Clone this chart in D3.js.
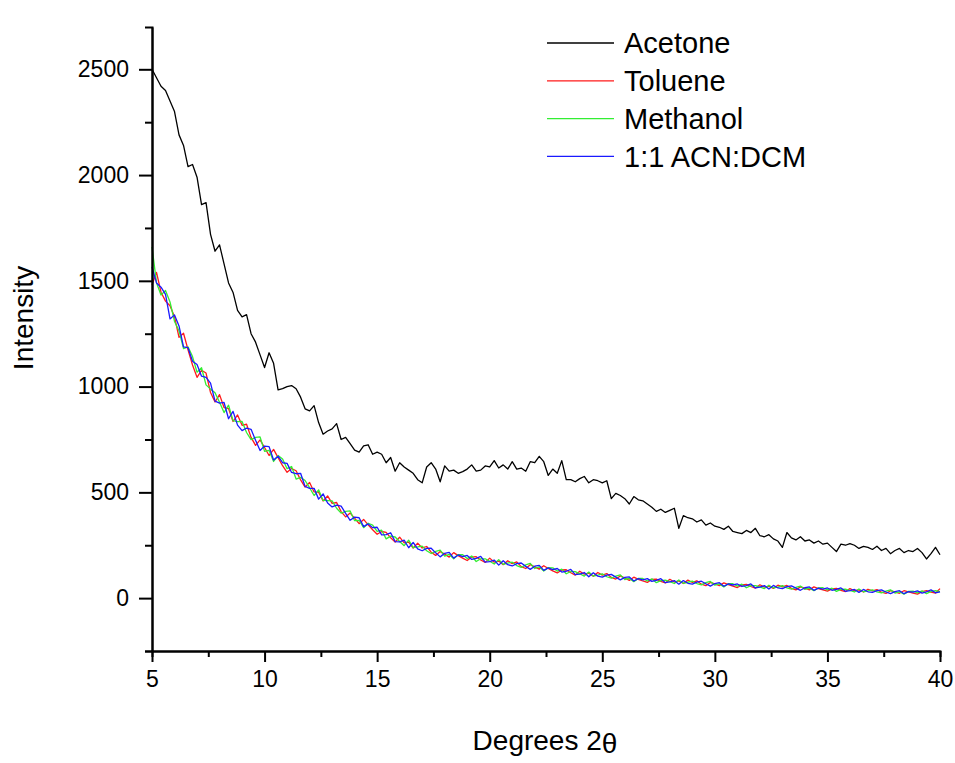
<!DOCTYPE html>
<html>
<head>
<meta charset="utf-8">
<script src="https://cdn.jsdelivr.net/npm/d3@7"></script>
<style>
  body { margin: 0; background: #fff; }
  text { font-family: "Liberation Sans", Arial, sans-serif; fill: #000; }
</style>
</head>
<body>
<div id="chart"></div>
<script>

//config
var WD = 955, HT = 763
var margin = { left: 152, right: 15, top: 27, bottom: 112 }
var width = WD - margin.left - margin.right
var height = HT - margin.top - margin.bottom

// sampling grid, degrees 2theta (5.0 -> 40.0, 0.2 step)
var twoTheta = d3.range(0, 176).map(function(i){ return +(5 + i * 0.2).toFixed(1); });

// intensities, one value per grid point
var acetone = [
  2500, 2460, 2420, 2400, 2350, 2300, 2190, 2140, 2040, 2050,
  1990, 1860, 1870, 1720, 1640, 1670, 1580, 1490, 1445, 1360,
  1330, 1340, 1250, 1210, 1150, 1090, 1160, 1110, 985, 990,
  1000, 1005, 990, 950, 895, 885, 910, 830, 775, 790,
  800, 825, 750, 760, 730, 700, 690, 720, 725, 680,
  690, 680, 640, 665, 600, 640, 620, 605, 590, 560,
  545, 620, 640, 610, 550, 625, 600, 605, 590, 598,
  610, 630, 600, 605, 625, 620, 650, 615, 630, 610,
  645, 610, 615, 600, 645, 640, 670, 645, 580, 610,
  590, 650, 560, 560, 550, 565, 575, 545, 560, 555,
  545, 555, 470, 495, 485, 470, 445, 480, 465, 460,
  445, 430, 410, 420, 405, 415, 425, 330, 390, 380,
  375, 360, 370, 345, 355, 340, 335, 325, 340, 315,
  310, 305, 320, 310, 330, 295, 290, 300, 280, 270,
  240, 310, 285, 275, 290, 270, 275, 260, 270, 255,
  260, 240, 220, 255, 250, 258, 250, 235, 245, 240,
  230, 245, 225, 235, 210, 225, 235, 215, 225, 220,
  235, 215, 185, 210, 240, 205
];

var toluene = [
  1480, 1540, 1446, 1404, 1382, 1330, 1233, 1252, 1174, 1102,
  1044, 1077, 1064, 972, 927, 962, 901, 896, 835, 866,
  817, 822, 760, 722, 748, 712, 674, 703, 664, 626,
  595, 613, 602, 559, 525, 547, 502, 501, 459, 483,
  448, 452, 409, 384, 402, 378, 352, 372, 346, 323,
  302, 315, 311, 285, 265, 288, 261, 265, 237, 260,
  237, 244, 217, 202, 220, 208, 194, 215, 201, 189,
  178, 194, 196, 180, 169, 189, 170, 175, 158, 177,
  163, 171, 149, 140, 158, 148, 137, 153, 140, 129,
  119, 133, 134, 120, 109, 127, 113, 118, 103, 121,
  109, 116, 98, 90, 105, 95, 84, 99, 89, 81,
  74, 88, 90, 79, 72, 89, 76, 81, 69, 85,
  74, 82, 66, 59, 74, 67, 59, 72, 64, 57,
  50, 62, 65, 55, 47, 63, 52, 56, 46, 61,
  53, 60, 46, 39, 53, 47, 39, 53, 45, 39,
  33, 44, 46, 37, 31, 45, 35, 39, 29, 42,
  34, 40, 28, 22, 35, 29, 23, 35, 29, 24,
  19, 31, 35, 28, 24, 45
];

var methanol = [
  1660, 1491, 1433, 1454, 1400, 1308, 1264, 1180, 1188, 1142,
  1068, 1089, 1008, 988, 971, 926, 877, 912, 839, 834,
  835, 783, 749, 760, 762, 694, 699, 646, 674, 658,
  612, 622, 563, 571, 556, 522, 485, 512, 462, 461,
  460, 425, 402, 410, 412, 366, 368, 333, 354, 345,
  315, 321, 280, 293, 289, 268, 248, 274, 239, 242,
  246, 224, 211, 221, 227, 199, 207, 186, 206, 205,
  187, 199, 173, 186, 186, 174, 161, 182, 160, 165,
  170, 154, 145, 157, 164, 140, 148, 128, 144, 143,
  128, 137, 115, 126, 125, 115, 104, 123, 104, 109,
  115, 101, 94, 104, 110, 88, 93, 78, 93, 93,
  81, 91, 73, 83, 85, 78, 69, 86, 70, 75,
  80, 69, 63, 73, 79, 61, 67, 53, 68, 68,
  57, 66, 49, 59, 59, 53, 45, 61, 48, 52,
  59, 48, 42, 51, 57, 41, 47, 35, 48, 49,
  39, 47, 32, 41, 42, 36, 29, 43, 30, 34,
  39, 29, 25, 33, 39, 24, 30, 19, 32, 33,
  25, 34, 21, 32, 35, 31
];

var acnDcm = [
  1566, 1490, 1470, 1436, 1320, 1339, 1287, 1188, 1184, 1120,
  1104, 1049, 1044, 1016, 931, 922, 925, 848, 883, 818,
  792, 804, 798, 746, 698, 719, 716, 653, 671, 640,
  637, 594, 588, 590, 528, 519, 519, 468, 493, 450,
  431, 440, 435, 401, 368, 383, 380, 338, 351, 333,
  335, 299, 300, 309, 267, 266, 274, 238, 263, 233,
  224, 235, 236, 214, 195, 212, 216, 189, 204, 196,
  202, 183, 188, 197, 170, 173, 180, 156, 177, 158,
  152, 163, 166, 150, 136, 151, 155, 131, 143, 135,
  140, 123, 127, 136, 111, 113, 121, 101, 120, 104,
  99, 109, 112, 99, 86, 98, 100, 81, 92, 86,
  92, 79, 84, 92, 73, 77, 83, 66, 83, 70,
  66, 76, 80, 68, 57, 69, 73, 56, 67, 62,
  67, 55, 59, 67, 48, 52, 59, 43, 60, 48,
  45, 54, 58, 47, 37, 49, 53, 37, 47, 43,
  48, 37, 41, 48, 32, 35, 41, 27, 41, 30,
  27, 35, 39, 29, 21, 31, 35, 21, 31, 28,
  34, 24, 30, 39, 25, 30
];

var seriesNames = ["Acetone", "Toluene", "Methanol", "1:1 ACN:DCM"];
var seriesColors = ["#000000", "#ff1a1a", "#33ee33", "#1a1aff"];
var seriesData = [acetone, toluene, methanol, acnDcm];

var xTicks = [5, 10, 15, 20, 25, 30, 35, 40];
var xMinor = [7.5, 12.5, 17.5, 22.5, 27.5, 32.5, 37.5];
var yTicks = [0, 500, 1000, 1500, 2000, 2500];
var yMinor = [-250, 250, 750, 1250, 1750, 2250];

// svg
var svg = d3.select("#chart")
  .append("svg")
    .attr("width", WD)
    .attr("height", HT)

svg.append("rect").attr("width", WD).attr("height", HT).attr("fill", "#fff")

var g = svg.append("g")
  .attr("transform", "translate(" + margin.left + "," + margin.top + ")")

var x = d3.scaleLinear().domain([5, 40]).range([0, width])
var y = d3.scaleLinear().domain([-250, 2700]).range([height, 0])

// curves
var line = d3.line()
  .x(function(d, i){ return x(twoTheta[i]); })
  .y(function(d){ return y(d); })

g.selectAll(".series")
  .data(seriesData)
  .enter().append("path")
    .attr("class", "series")
    .attr("d", line)
    .attr("fill", "none")
    .attr("stroke", function(d, i){ return seriesColors[i]; })
    .attr("stroke-width", 1.3)
    .attr("stroke-linejoin", "round")

// axes
function styleAxis(sel) {
  sel.selectAll("path, line").attr("stroke", "#000").attr("stroke-width", 2)
  sel.selectAll("text").style("font-size", "23px").attr("fill", "#000")
}

g.append("g")
  .attr("transform", "translate(0," + height + ")")
  .call(d3.axisBottom(x).tickValues(xMinor).tickSize(6).tickFormat(""))
  .call(styleAxis)

g.append("g")
  .attr("transform", "translate(0," + height + ")")
  .call(d3.axisBottom(x).tickValues(xTicks).tickSize(11).tickSizeOuter(0).tickPadding(9))
  .call(styleAxis)

g.append("g")
  .call(d3.axisLeft(y).tickValues(yMinor).tickSize(7).tickFormat(""))
  .call(styleAxis)

g.append("g")
  .call(d3.axisLeft(y).tickValues(yTicks).tickSize(13).tickSizeOuter(0).tickPadding(10).tickFormat(d3.format("d")))
  .call(styleAxis)

// axis titles
svg.append("text")
  .attr("transform", "translate(33,318) rotate(-90)")
  .attr("text-anchor", "middle")
  .style("font-size", "28px")
  .text("Intensity")

var xt = svg.append("text")
  .attr("x", 545)
  .attr("y", 750)
  .attr("text-anchor", "middle")
  .style("font-size", "28px")
xt.append("tspan").text("Degrees 2")
xt.append("tspan").attr("dy", 3).text("θ")

// legend
var legend = svg.append("g").attr("transform", "translate(547,43)")
var rows = legend.selectAll(".row")
  .data(seriesNames)
  .enter().append("g")
    .attr("class", "row")
    .attr("transform", function(d, i){ return "translate(0," + (i * 37.8) + ")"; })

rows.append("line")
  .attr("x1", 0).attr("x2", 67)
  .attr("stroke", function(d, i){ return seriesColors[i]; })
  .attr("stroke-width", 1.3)

rows.append("text")
  .attr("x", 77)
  .attr("dy", "0.36em")
  .style("font-size", "29px")
  .text(function(d){ return d; })

</script>
</body>
</html>
